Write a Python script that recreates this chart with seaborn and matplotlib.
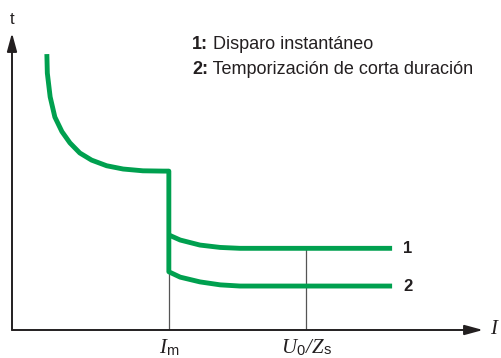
import numpy as np
import pandas as pd
import matplotlib.pyplot as plt
import seaborn as sns

# Curva tiempo-corriente (unidades arbitrarias)
corriente_2 = [0.74, 0.75, 0.81, 0.91, 1.06, 1.23, 1.44, 1.69, 2.01, 2.36, 2.78, 3.21, 3.33,
               3.33, 3.57, 3.99, 4.42, 4.84, 8.07]
tiempo_2 = [9.29, 8.65, 7.85, 7.17, 6.68, 6.30, 5.96, 5.72, 5.53, 5.42, 5.36, 5.35, 5.35,
            1.96, 1.78, 1.62, 1.52, 1.48, 1.48]

corriente_1 = [3.33, 3.57, 3.99, 4.42, 4.84, 8.07]
tiempo_1 = [3.20, 3.03, 2.86, 2.78, 2.75, 2.75]

# Referencias en el eje de corriente
i_m = 3.33
u0_zs = 6.24
leyenda = ["Disparo instantáneo", "Temporización de corta duración"]

verde = "#00a04f"
negro = "#231f20"

sns.set_style("white")
plt.rcParams['font.family'] = ['Liberation Sans', 'DejaVu Sans']

fig = plt.figure(figsize=(5.01, 3.58), dpi=100)
ax = fig.add_axes([12 / 501, 28 / 358, 471 / 501, 297 / 358])
ax.set_xlim(0, 10)
ax.set_ylim(0, 10)

df2 = pd.DataFrame({"I": corriente_2, "t": tiempo_2})
df1 = pd.DataFrame({"I": corriente_1, "t": tiempo_1})

# lineas finas de referencia
ax.plot([i_m, i_m], [0, tiempo_2[13]], color="#555555", lw=0.9)
ax.plot([u0_zs, u0_zs], [0, tiempo_1[-1]], color="#555555", lw=0.9)

sns.lineplot(data=df2, x="I", y="t", sort=False, estimator=None, color=verde,
             lw=3.5, ax=ax, solid_capstyle="butt", solid_joinstyle="round")
sns.lineplot(data=df1, x="I", y="t", sort=False, estimator=None, color=verde,
             lw=3.5, ax=ax, solid_capstyle="butt", solid_joinstyle="round")

for s in ax.spines.values():
    s.set_visible(False)
ax.set_xticks([])
ax.set_yticks([])
ax.set_xlabel("")
ax.set_ylabel("")

# ejes con flecha
flecha = dict(arrowstyle="-|>,head_length=1.1,head_width=0.3", lw=1.4, color=negro,
              shrinkA=0, shrinkB=0)
ax.annotate("", xy=(10, 0), xytext=(0, 0), arrowprops=flecha, annotation_clip=False)
ax.annotate("", xy=(0, 10), xytext=(0, 0), arrowprops=flecha, annotation_clip=False)

serif = dict(family="Liberation Serif", style="italic", color=negro)
ax.text(0, 10.47, "t", ha="center", va="center", fontsize=12, color=negro)
ax.text(10.23, 0.02, "I", ha="center", va="center", fontsize=15, **serif)


def etiqueta(x, partes):
    # partes: lista de (texto, es_subindice, separacion en puntos)
    t = ax.text(x, -0.3, partes[0][0], ha="left", va="top", fontsize=15, **serif)
    objs = [t]
    for texto, sub, sep in partes[1:]:
        if sub:
            t = ax.annotate(texto, xycoords=t, xy=(1, 0.02), xytext=(sep, 0),
                            textcoords="offset points", va="bottom", ha="left",
                            fontsize=10.5, color=negro)
        else:
            t = ax.annotate(texto, xycoords=t, xy=(1, 0), xytext=(sep, 0),
                            textcoords="offset points", va="bottom",
                            ha="left", fontsize=15, **serif)
        objs.append(t)
    return objs


fig.canvas.draw()
r = fig.canvas.get_renderer()
for x, partes in [(i_m, [("I", 0, 0), ("m", 1, 0)]),
                  (u0_zs, [("U", 0, 0), ("0", 1, 0), ("/", 0, 1), ("Z", 0, 0), ("s", 1, 0)])]:
    objs = etiqueta(x, partes)
    fig.canvas.draw()
    x0 = objs[0].get_window_extent(r).x0
    x1 = max(o.get_window_extent(r).x1 for o in objs)
    dx = (x1 - x0) / 2
    inv = ax.transData.inverted()
    nuevo = inv.transform((ax.transData.transform((x, 0))[0] - dx, 0))[0]
    objs[0].set_x(nuevo)

ax.text(8.3, tiempo_1[-1], "1", ha="left", va="center", fontsize=12,
        fontweight="bold", color=negro)
ax.text(8.3, tiempo_2[-1], "2", ha="left", va="center", fontsize=12,
        fontweight="bold", color=negro)

for k, texto in enumerate(leyenda):
    y = 9.6 - k * 0.83
    t1 = ax.text(3.82, y, f"{k + 1}:", ha="left", va="center", fontsize=13,
                 fontweight="bold", color=negro)
    ax.annotate(" " + texto, xycoords=t1, xy=(1, 0.5), va="center", ha="left",
                fontsize=13, color=negro)

fig.savefig("out.png", dpi=100)
